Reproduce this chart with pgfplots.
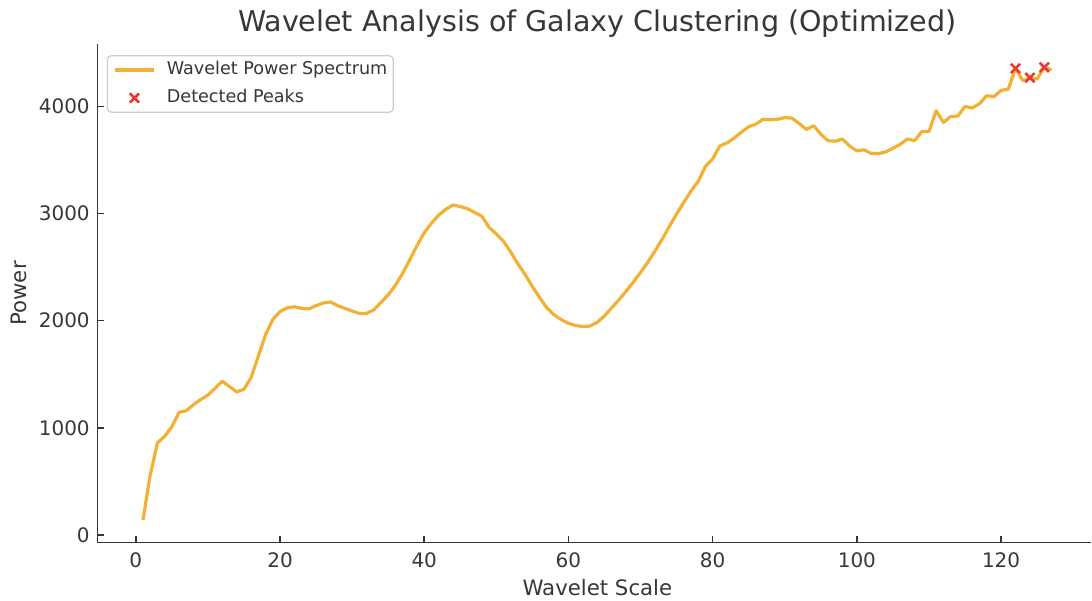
\documentclass[border=0pt]{standalone}
\usepackage{pgfplots}
\pgfplotsset{compat=1.18}
\usepackage{fontspec}
\setmainfont{DejaVu Sans}
\definecolor{lineorange}{RGB}{242,176,52}
\definecolor{peakred}{RGB}{235,55,50}
\definecolor{axgray}{RGB}{55,55,55}
\pgfplotsset{
  lineleg/.style={legend image code/.code={\draw[##1] (-5.5pt,0pt) -- (33.5pt,0pt); \path[draw=none,fill=none] (0pt,0pt) -- (46.5pt,0pt);}},
  markleg/.style={legend image code/.code={\path[##1] plot coordinates {(14pt,0pt)}; \path[draw=none,fill=none] (0pt,0pt) -- (46.5pt,0pt);}},
}
\begin{document}
\begin{tikzpicture}
\path (-97.7pt,-57.7pt) rectangle (994.9pt,543.3pt);
\begin{axis}[
  scale only axis,
  width=994.9pt, height=499.1pt,
  xmin=-5.3, xmax=132.5, ymin=-71, ymax=4581,
  axis x line*=bottom, axis y line*=left,
  x axis line style={-}, y axis line style={-},
  axis line style={line width=1.6pt, color=axgray},
  tick align=inside,
  major tick length=6.7pt,
  tick style={line width=1.6pt, color=axgray},
  xtick={0,20,...,120}, ytick={0,1000,...,4000},
  minor tick num=0,
  /pgf/number format/assume math mode=true,
  /pgf/number format/1000 sep={},
  scaled ticks=false,
  ticklabel style={font=\fontsize{20}{24}\selectfont, color=axgray},
  xticklabel style={inner sep=0pt, anchor=north, yshift=-10pt},
  yticklabel style={inner sep=0pt, anchor=east, xshift=-7.7pt},
  title={Wavelet Analysis of Galaxy Clustering (Optimized)},
  title style={font=\fontsize{28.6}{34}\selectfont, color=axgray, at={(axis description cs:0.503,1.013)}, anchor=base, inner sep=0pt},
  xlabel={Wavelet Scale},
  xlabel style={font=\fontsize{21.3}{25}\selectfont, color=axgray, at={(axis description cs:0.503,-0.1056)}, anchor=base, inner sep=0pt},
  ylabel={Power},
  ylabel style={font=\fontsize{21.3}{25}\selectfont, color=axgray, at={(axis description cs:-0.0711,0.5)}, anchor=base, inner sep=0pt},
  legend style={at={(axis description cs:0.0093,0.978)}, anchor=north west,
    draw=black!20, line width=1.2pt, rounded corners=4pt, fill=white,
    inner xsep=6pt, inner ysep=5.8pt, row sep=11pt, column sep=0pt,
    font=\fontsize{17.6}{21}\selectfont,
    nodes={inner sep=0pt, text height=13pt, text depth=4pt, text=axgray}},
  legend cell align=left,
]
\addplot[color=lineorange, line width=3.2pt, line join=round, lineleg]
 coordinates {
(1,140)(2,560)(3,860)(4,920)(5,1010)(6,1145)(7,1160)(8,1215)(9,1265)(10,1305)
(11,1370)(12,1435)(13,1385)(14,1335)(15,1360)(16,1470)(17,1670)(18,1870)(19,2010)(20,2085)
(21,2120)(22,2130)(23,2115)(24,2110)(25,2140)(26,2165)(27,2175)(28,2140)(29,2115)(30,2090)
(31,2068)(32,2068)(33,2100)(34,2170)(35,2240)(36,2330)(37,2440)(38,2570)(39,2700)(40,2820)
(41,2910)(42,2985)(43,3040)(44,3080)(45,3065)(46,3045)(47,3010)(48,2975)(49,2870)(50,2810)
(51,2740)(52,2640)(53,2530)(54,2430)(55,2320)(56,2215)(57,2120)(58,2055)(59,2010)(60,1975)
(61,1955)(62,1945)(63,1950)(64,1985)(65,2045)(66,2120)(67,2195)(68,2275)(69,2360)(70,2450)
(71,2545)(72,2650)(73,2760)(74,2880)(75,2995)(76,3105)(77,3210)(78,3300)(79,3440)(80,3510)
(81,3630)(82,3660)(83,3705)(84,3760)(85,3810)(86,3835)(87,3880)(88,3875)(89,3880)(90,3895)
(91,3890)(92,3840)(93,3785)(94,3820)(95,3740)(96,3680)(97,3675)(98,3695)(99,3630)(100,3585)
(101,3595)(102,3560)(103,3560)(104,3575)(105,3610)(106,3645)(107,3695)(108,3680)(109,3765)(110,3765)
(111,3960)(112,3850)(113,3905)(114,3910)(115,4000)(116,3985)(117,4025)(118,4100)(119,4090)(120,4150)
(121,4160)(122,4355)(123,4240)(124,4268)(125,4255)(126,4365)(127,4340)
};
\addlegendentry{Wavelet Power Spectrum}
\addplot[only marks, mark=x, mark size=6.5pt, color=peakred, line width=2.6pt, markleg]
 coordinates {(122,4355)(124,4268)(126,4365)};
\addlegendentry{Detected Peaks}
\end{axis}
\end{tikzpicture}
\end{document}
